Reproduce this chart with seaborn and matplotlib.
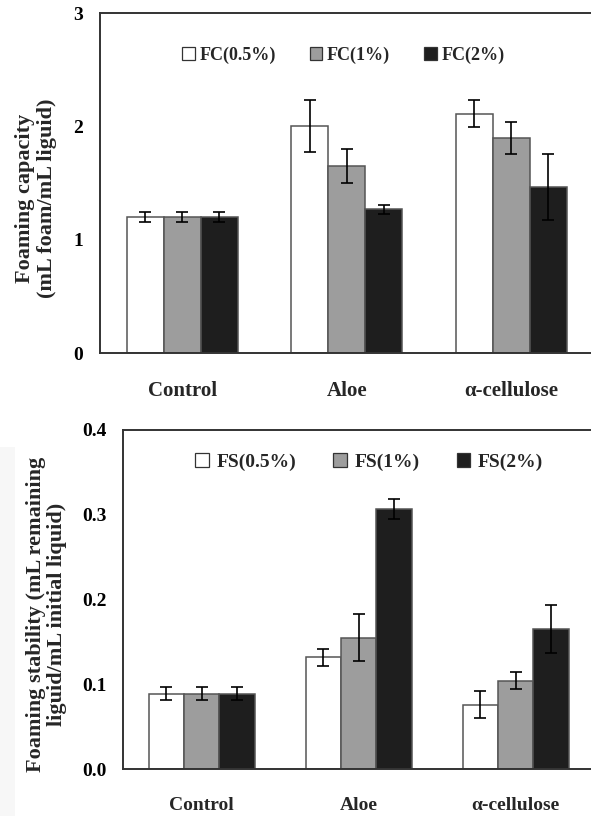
import matplotlib
matplotlib.use("Agg")
import matplotlib.pyplot as plt
import seaborn as sns
import pandas as pd
import numpy as np
from matplotlib.patches import Patch, Rectangle

# ---------------- data ----------------
categories = ["Control", "Aloe", "α-cellulose"]

fc_levels = ["FC(0.5%)", "FC(1%)", "FC(2%)"]
fc_05 = [1.20, 2.00, 2.11]
fc_1 = [1.20, 1.65, 1.90]
fc_2 = [1.20, 1.27, 1.465]
fc_05_err = [0.045, 0.23, 0.12]
fc_1_err = [0.045, 0.15, 0.14]
fc_2_err = [0.045, 0.04, 0.29]

fs_levels = ["FS(0.5%)", "FS(1%)", "FS(2%)"]
fs_05 = [0.089, 0.132, 0.076]
fs_1 = [0.089, 0.155, 0.104]
fs_2 = [0.089, 0.307, 0.165]
fs_05_err = [0.008, 0.010, 0.016]
fs_1_err = [0.008, 0.028, 0.010]
fs_2_err = [0.008, 0.012, 0.028]

fc_yticks = [0, 1, 2, 3]
fs_yticks = [0.0, 0.1, 0.2, 0.3, 0.4]
fs_yticklabels = ["0.0", "0.1", "0.2", "0.3", "0.4"]

colors = ["#ffffff", "#9d9d9d", "#1e1e1e"]

sns.set_theme(style="white")
plt.rcParams["font.family"] = ["Liberation Serif", "DejaVu Serif"]
plt.rcParams["font.weight"] = "bold"

W, H = 591, 816
fig = plt.figure(figsize=(W / 100, H / 100), dpi=100)

# faint scan artifact at left of lower panel
fig.patches.append(Rectangle((0, 0), 15 / W, (816 - 447) / H, transform=fig.transFigure,
                             facecolor="#f7f7f7", edgecolor="none", zorder=0))


def px_axes(left, top, right, bottom):
    return fig.add_axes([left / W, 1 - bottom / H, (right - left) / W, (bottom - top) / H])


def panel(ax, levels, vals, errs, ylim, yticks, yticklabels, ylabel, xfs, yfs, lfs,
          legend_xy, ylabel_xy, ylab_fs, htp):
    rows = []
    for lev, v in zip(levels, vals):
        for c, val in zip(categories, v):
            rows.append({"cat": c, "level": lev, "value": val})
    df = pd.DataFrame(rows)
    sns.barplot(data=df, x="cat", y="value", hue="level", order=categories,
                hue_order=levels, palette=colors, errorbar=None, width=0.675,
                edgecolor="#555555", linewidth=1.1, saturation=1, ax=ax, legend=False)
    for cont, e in zip(ax.containers, errs):
        xs = [p.get_x() + p.get_width() / 2 for p in cont.patches]
        ys = [p.get_height() for p in cont.patches]
        ax.errorbar(xs, ys, yerr=e, fmt="none", ecolor="black", elinewidth=1.2,
                    capsize=4.5, capthick=1.2, zorder=5)
    ax.set_xlim(-0.5, 2.5)
    ax.set_ylim(*ylim)
    ax.set_yticks(yticks)
    ax.set_yticklabels(yticklabels, fontsize=yfs, fontweight="bold")
    ax.set_xticks(range(len(categories)))
    ax.set_xticklabels(categories, fontsize=xfs, fontweight="bold")
    ax.set_xticks([0.5, 1.5], minor=True)
    ax.tick_params(axis="x", which="major", length=0, pad=20)
    ax.tick_params(axis="x", which="minor", direction="in", length=6, width=0.8,
                   color="#aaaaaa")
    ax.tick_params(axis="y", which="major", direction="in", length=5, width=0.8,
                   color="#aaaaaa", pad=12, labelcolor="black")
    ax.set_xlabel("")
    ax.set_ylabel(ylabel, fontsize=ylab_fs, fontweight="bold", linespacing=1.08)
    ax.yaxis.set_label_coords(*ylabel_xy)
    for s in ["top", "left", "bottom", "right"]:
        ax.spines[s].set_visible(True)
        ax.spines[s].set_color("#333333")
        ax.spines[s].set_linewidth(1.4)
    handles = [Patch(facecolor=c, edgecolor="#333333", linewidth=0.9, label=l)
               for c, l in zip(colors, levels)]
    fig.legend(handles=handles, loc="center left", bbox_to_anchor=legend_xy,
               bbox_transform=fig.transFigure, ncol=3, frameon=False,
               handlelength=0.7, handleheight=0.7, handletextpad=htp,
               columnspacing=1.9, borderpad=0, borderaxespad=0,
               prop={"size": lfs, "weight": "bold", "family": "Liberation Serif"})
    return ax


ax1 = px_axes(100, 13, 593.5, 353)
panel(ax1, fc_levels, [fc_05, fc_1, fc_2], [fc_05_err, fc_1_err, fc_2_err],
      (0, 3), fc_yticks, [str(t) for t in fc_yticks],
      "Foaming capacity\n(mL foam/mL liguid)", 15, 14, 13,
      (182 / W, 1 - 55 / H), (-0.088, 0.455), 16, 0.25)

ax2 = px_axes(123.3, 430, 594, 769)
panel(ax2, fs_levels, [fs_05, fs_1, fs_2], [fs_05_err, fs_1_err, fs_2_err],
      (0, 0.4), fs_yticks, fs_yticklabels,
      "Foaming stability (mL remaining\nliguid/mL initial liquid)", 14, 14, 14,
      (195 / W, 1 - 462 / H), (-0.12, 0.457), 16, 0.4)

fig.savefig("out.png", dpi=100)
